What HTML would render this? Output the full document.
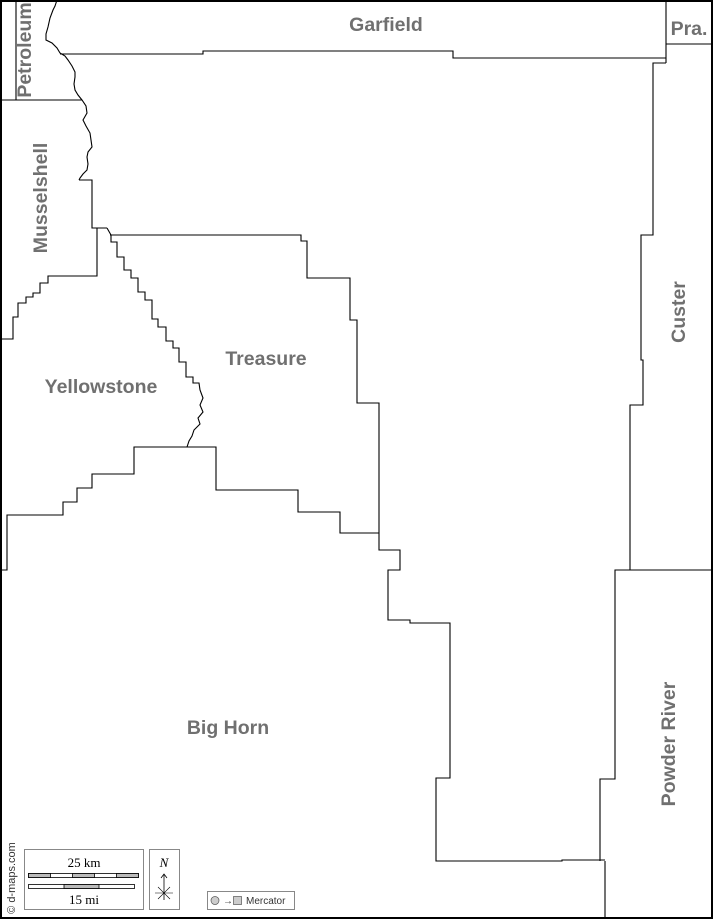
<!DOCTYPE html>
<html><head><meta charset="utf-8"><style>
html,body{margin:0;padding:0;background:#fff}
svg{display:block}
.l{fill:none;stroke:#000;stroke-width:1.1}
.t{font-family:"Liberation Sans",sans-serif;font-weight:bold;font-size:19.5px;fill:#707070}
</style></head><body>
<svg width="713" height="919" viewBox="0 0 713 919" xmlns="http://www.w3.org/2000/svg">
<rect x="0" y="0" width="713" height="919" fill="#fff"/>
<polyline class="l" points="57,0 55,6 53,10 50,18 48,27 46,34 46,40 52,43 57,48 60,53 65,56 68,60 72,66 75,72 75,77 74,84 75,90 78,95 82,100 86,106 87,113 83,120 86,126 90,133 91,140 92,147 88,152 87,157 88,164 87,170 83,174 80,178 79,180"/>
<polyline class="l" points="60,54 203,54 203,51 453,51 453,58 666,58"/>
<line class="l" x1="666" y1="0" x2="666" y2="63"/>
<line class="l" x1="666" y1="44" x2="713" y2="44"/>
<polyline class="l" points="666,63 653,63 653,235 641,235 641,360 643,360 643,405 630,405 630,570"/>
<polyline class="l" points="713,570 615,570 615,779 600,779 600,861"/>
<line class="l" x1="605" y1="861" x2="605" y2="919"/>
<polyline class="l" points="379,533 379,550 400,550 400,570 388,570 388,620 410,620 410,623 450,623 450,778 436,778 436,861 562,861 562,860 605,860"/>
<line class="l" x1="0" y1="100" x2="82" y2="100"/>
<line class="l" x1="16" y1="0" x2="16" y2="100"/>
<polyline class="l" points="79,180 92,180 92,228 107,228"/>
<polyline class="l" points="97,228 97,276 48,276 48,283 40,283 40,293 33,293 33,297 26,297 26,303 18,303 18,317 13,317 13,339 0,339"/>
<polyline class="l" points="110,235 301,235 301,241 307,241 307,278 350,278 350,320 357,320 357,403 379,403 379,533"/>
<polyline class="l" points="107,228 111,235 111,242 117,242 117,257 124,257 124,270 131,270 131,278 138,278 138,292 145,292 145,300 152,300 152,319 158,319 158,327 166,327 166,341 173,341 173,348 179,348 179,362 186,362 186,377 193,377 193,383 199,383 200,390 203,398 200,405 203,412 198,418 200,424 194,430 192,436 189,441 187,447"/>
<polyline class="l" points="0,570 7,570 7,515 63,515 63,502 77,502 77,488 92,488 92,474 134,474 134,447 216,447 216,490 298,490 298,512 340,512 340,533 379,533"/>
<text class="t" x="386" y="31" text-anchor="middle">Garfield</text>
<text class="t" x="689" y="35" text-anchor="middle">Pra.</text>
<text class="t" x="266" y="365" text-anchor="middle">Treasure</text>
<text class="t" x="101" y="393" text-anchor="middle">Yellowstone</text>
<text class="t" x="228" y="734" text-anchor="middle">Big Horn</text>
<text class="t" text-anchor="middle" transform="translate(31,50) rotate(-90)">Petroleum</text>
<text class="t" text-anchor="middle" transform="translate(47,198) rotate(-90)">Musselshell</text>
<text class="t" text-anchor="middle" transform="translate(685,312) rotate(-90)">Custer</text>
<text class="t" text-anchor="middle" transform="translate(675,744) rotate(-90)">Powder River</text>
<text transform="translate(15,878) rotate(-90)" text-anchor="middle" font-family="Liberation Sans,sans-serif" font-size="11" fill="#333">© d-maps.com</text>
<rect x="24.5" y="849.5" width="119" height="60" fill="#fff" stroke="#888"/>
<text x="84" y="867" text-anchor="middle" font-family="Liberation Serif,serif" font-size="13">25 km</text>
<rect x="28.5" y="873.5" width="110" height="4" fill="#fff" stroke="#000" stroke-width="0.8"/>
<rect x="28.5" y="873.5" width="22" height="4" fill="#bbb" stroke="#000" stroke-width="0.8"/>
<rect x="72.5" y="873.5" width="22" height="4" fill="#bbb" stroke="#000" stroke-width="0.8"/>
<rect x="116.5" y="873.5" width="22" height="4" fill="#bbb" stroke="#000" stroke-width="0.8"/>
<rect x="28.5" y="884.5" width="106" height="4" fill="#fff" stroke="#000" stroke-width="0.8"/>
<rect x="64" y="884.5" width="35" height="4" fill="#bbb" stroke="#000" stroke-width="0.8"/>
<text x="84" y="904" text-anchor="middle" font-family="Liberation Serif,serif" font-size="13">15 mi</text>
<rect x="149.5" y="849.5" width="30" height="60" fill="#fff" stroke="#888"/>
<text x="164" y="867" text-anchor="middle" font-family="Liberation Serif,serif" font-style="italic" font-size="13">N</text>
<line x1="164" y1="874" x2="164" y2="900" stroke="#000" stroke-width="0.8"/>
<polyline points="161,878 164,874 167,878" fill="none" stroke="#000" stroke-width="0.8"/>
<line x1="155" y1="893" x2="173" y2="893" stroke="#000" stroke-width="0.6"/>
<line x1="158" y1="887" x2="170" y2="899" stroke="#000" stroke-width="0.6"/>
<line x1="170" y1="887" x2="158" y2="899" stroke="#000" stroke-width="0.6"/>
<rect x="207.5" y="891.5" width="87" height="18" fill="#fff" stroke="#888"/>
<circle cx="215" cy="900.5" r="4" fill="#ccc" stroke="#555" stroke-width="0.7"/>
<text x="223" y="904" font-family="Liberation Sans,sans-serif" font-size="10" fill="#333">→</text>
<rect x="233.5" y="896.5" width="8" height="8" fill="#ccc" stroke="#555" stroke-width="0.7"/>
<text x="246" y="904" font-family="Liberation Sans,sans-serif" font-size="10" fill="#333">Mercator</text>
<rect x="1" y="1" width="711" height="917" fill="none" stroke="#000" stroke-width="2"/>
</svg>
</body></html>
